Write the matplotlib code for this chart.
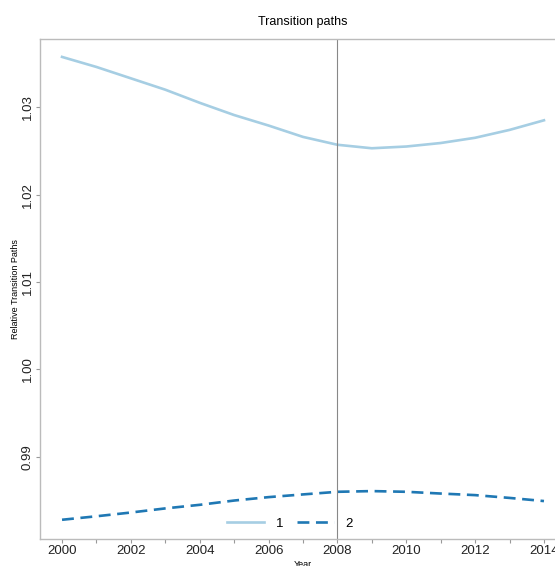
import matplotlib.pyplot as plt
from matplotlib.ticker import MultipleLocator

plt.rcParams['font.family'] = ['Liberation Sans', 'DejaVu Sans']

years = [2000, 2001, 2002, 2003, 2004, 2005, 2006, 2007,
         2008, 2009, 2010, 2011, 2012, 2013, 2014]
path_1 = [1.03575, 1.0346, 1.0333, 1.0320, 1.0305, 1.0291, 1.0279, 1.0266,
          1.0257, 1.0253, 1.0255, 1.0259, 1.0265, 1.0274, 1.0285]
path_2 = [0.9828, 0.9832, 0.98363, 0.9841, 0.98451, 0.9850, 0.98539, 0.9857,
          0.98600, 0.98608, 0.98600, 0.9858, 0.98562, 0.9853, 0.98494]
break_year = 2008

W, H = 555, 566
fig = plt.figure(figsize=(W / 100, H / 100), dpi=100)
# axes run past the right edge of the canvas
left, right, top, bottom = 40, 566, 39, 539
ax = fig.add_axes([left / W, 1 - bottom / H, (right - left) / W, (bottom - top) / H])

ax.plot(years, path_1, color='#a6cee3', lw=1.9, label='1')
ax.plot(years, path_2, color='#1f78b4', lw=1.9, ls=(0, (4.5, 2.5)), label='2')
ax.axvline(break_year, color='#888888', lw=0.8)

ax.set_xlim(1999.36, 2014.64)
ax.set_ylim(0.9806, 1.0378)
ax.xaxis.set_major_locator(MultipleLocator(2))
ax.xaxis.set_minor_locator(MultipleLocator(1))
ax.yaxis.set_major_locator(MultipleLocator(0.01))
ax.yaxis.set_major_formatter(plt.FormatStrFormatter('%.2f'))

for s in ax.spines.values():
    s.set_color('#bbbbbb')
    s.set_linewidth(1.0)
ax.tick_params(axis='both', which='both', colors='#999999', labelcolor='#222222',
               labelsize=9.5, length=3, width=0.8, pad=1.5)
plt.setp(ax.get_yticklabels(), rotation=90, va='center')

ax.set_title('Transition paths', fontsize=9, pad=10)
ax.set_ylabel('Relative Transition Paths', fontsize=6.5)
ax.yaxis.set_label_coords(-20 / (right - left), 0.5)
ax.set_xlabel('Year', fontsize=6.5, labelpad=2)

ax.legend(loc='lower center', ncol=2, frameon=False, fontsize=9.5,
          handlelength=2.8, columnspacing=1.0, handletextpad=0.9,
          bbox_to_anchor=((290 - left) / (right - left), -0.005))

fig.savefig('out.png', dpi=100)
